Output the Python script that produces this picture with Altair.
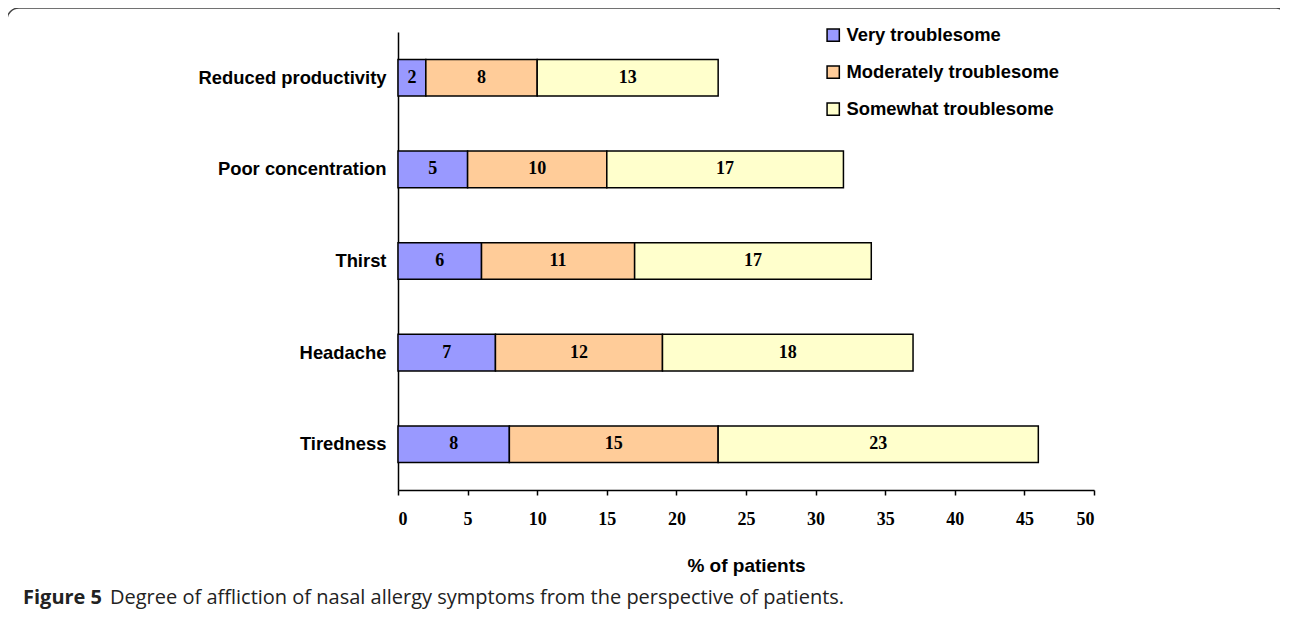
import altair as alt
import pandas as pd

categories = ["Reduced productivity", "Poor concentration", "Thirst", "Headache", "Tiredness"]
very = [2, 5, 6, 7, 8]
moderate = [8, 10, 11, 12, 15]
somewhat = [13, 17, 17, 18, 23]
series = ["Very troublesome", "Moderately troublesome", "Somewhat troublesome"]
colors = ["#9999FF", "#FFCC99", "#FFFFCC"]
x_ticks = [0, 5, 10, 15, 20, 25, 30, 35, 40, 45, 50]

rows = []
for i, c in enumerate(categories):
    for j, (s, vals) in enumerate(zip(series, [very, moderate, somewhat])):
        rows.append({"category": c, "series": s, "order": j, "value": vals[i]})
df = pd.DataFrame(rows)

base = alt.Chart(df).transform_stack(
    stack="value", groupby=["category"], as_=["x0", "x1"],
    sort=[alt.SortField("order", order="ascending")]
).transform_calculate(mid="(datum.x0 + datum.x1) / 2")

yenc = alt.Y("category:N", sort=categories, title=None,
             scale=alt.Scale(paddingInner=0.6, paddingOuter=0.3),
             axis=alt.Axis(labelFont="Liberation Sans", labelFontWeight="bold",
                           labelFontSize=18.4, labelColor="black", ticks=False,
                           labelPadding=12, domainColor="black", domainWidth=1.5,
                           labelLimit=400))

bars = base.mark_bar(stroke="black", strokeWidth=1.5).encode(
    x=alt.X("x0:Q", scale=alt.Scale(domain=[0, 50]), title="% of patients",
            axis=alt.Axis(values=x_ticks, grid=False, tickSize=5, tickColor="black",
                          tickWidth=1.5, domainColor="black", domainWidth=1.5,
                          labelFont="Liberation Serif", labelFontWeight="bold",
                          labelFontSize=18, labelColor="black", labelPadding=15,
                          titleFont="Liberation Sans", titleFontWeight="bold",
                          titleFontSize=19, titleColor="black", titlePadding=28)),
    x2="x1:Q",
    y=yenc,
    fill=alt.Fill("series:N", sort=series,
                  scale=alt.Scale(domain=series, range=colors),
                  legend=alt.Legend(title=None, orient="none", legendX=426, legendY=-6,
                                    symbolType="square", symbolSize=150,
                                    symbolStrokeColor="black", symbolStrokeWidth=1.5,
                                    labelFont="Liberation Sans", labelFontWeight="bold",
                                    labelFontSize=18.4, labelColor="black", labelLimit=400,
                                    labelOffset=4, rowPadding=18)),
)

labels = base.mark_text(font="Liberation Serif", fontWeight="bold", fontSize=18,
                        color="black").encode(
    x=alt.X("mid:Q"),
    y=alt.Y("category:N", sort=categories),
    text=alt.Text("value:Q"),
)

border = alt.Chart(pd.DataFrame({"a": [0]})).mark_rect(
    fill=None, stroke="#444444", strokeWidth=1.5, cornerRadius=12, clip=False
).encode(x=alt.value(-391), x2=alt.value(890), y=alt.value(-24), y2=alt.value(640))

cap1 = alt.Chart(pd.DataFrame({"t": ["Figure 5"]})).mark_text(
    font="Open Sans", fontWeight="bold", fontSize=20, color="#222222",
    align="left", baseline="middle"
).encode(x=alt.value(-375), y=alt.value(566), text="t:N")

cap2 = alt.Chart(pd.DataFrame({"t": ["Degree of affliction of nasal allergy symptoms from the perspective of patients."]})).mark_text(
    font="Open Sans", fontSize=20, color="#222222", align="left", baseline="middle"
).encode(x=alt.value(-288), y=alt.value(566), text="t:N")

chart = alt.layer(bars, labels, border, cap1, cap2).properties(
    width=696, height=458,
    autosize=alt.AutoSizeParams(type="none"),
    padding={"left": 390, "top": 24, "right": 186, "bottom": 121},
).configure_view(stroke=None)

chart.save("out.html", embed_options={"renderer": "svg", "actions": False})
